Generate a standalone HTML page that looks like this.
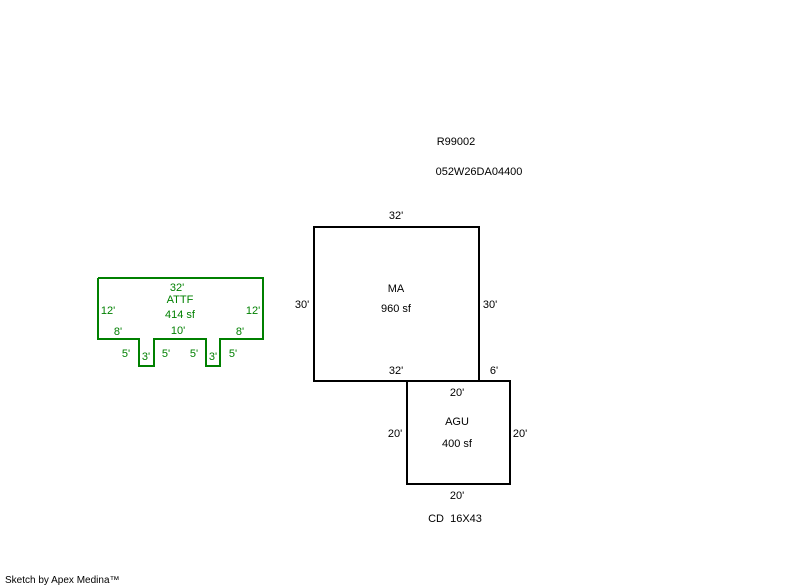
<!DOCTYPE html>
<html><head><style>
html,body{margin:0;padding:0;background:#fff;}
svg{display:block;}
text{font-family:"Liberation Sans",Arial,sans-serif;font-size:11px;}
</style></head><body>
<svg width="800" height="587" viewBox="0 0 800 587" xmlns="http://www.w3.org/2000/svg">
<g fill="none" stroke="#000" stroke-width="2">
<rect x="314" y="227" width="165" height="154"/>
<rect x="407" y="381" width="103" height="103"/>
</g>
<polyline fill="none" stroke="#008000" stroke-width="2" points="98,278 263,278 263,339 220,339 220,366 206,366 206,339 154,339 154,366 139,366 139,339 98,339 98,278"/>
<g fill="#000">
<text x="456" y="145" text-anchor="middle">R99002</text>
<text x="479" y="175" text-anchor="middle">052W26DA04400</text>
<text x="396" y="219" text-anchor="middle">32'</text>
<text x="302" y="308" text-anchor="middle">30'</text>
<text x="490" y="308" text-anchor="middle">30'</text>
<text x="396" y="292" text-anchor="middle">MA</text>
<text x="396" y="312" text-anchor="middle">960 sf</text>
<text x="396" y="374" text-anchor="middle">32'</text>
<text x="494" y="374" text-anchor="middle">6'</text>
<text x="457" y="396" text-anchor="middle">20'</text>
<text x="457" y="425" text-anchor="middle">AGU</text>
<text x="457" y="447" text-anchor="middle">400 sf</text>
<text x="395" y="437" text-anchor="middle">20'</text>
<text x="520" y="437" text-anchor="middle">20'</text>
<text x="457" y="499" text-anchor="middle">20'</text>
<text x="455" y="522" text-anchor="middle">CD&#160; 16X43</text>
<text x="5" y="583" style="font-size:10px">Sketch by Apex Medina™</text>
</g>
<g fill="#008000">
<text x="177" y="291" text-anchor="middle">32'</text>
<text x="180" y="303" text-anchor="middle">ATTF</text>
<text x="180" y="318" text-anchor="middle">414 sf</text>
<text x="108" y="314" text-anchor="middle">12'</text>
<text x="253" y="314" text-anchor="middle">12'</text>
<text x="118" y="335" text-anchor="middle">8'</text>
<text x="178" y="334" text-anchor="middle">10'</text>
<text x="240" y="335" text-anchor="middle">8'</text>
<text x="126" y="357" text-anchor="middle">5'</text>
<text x="146" y="360" text-anchor="middle">3'</text>
<text x="166" y="357" text-anchor="middle">5'</text>
<text x="194" y="357" text-anchor="middle">5'</text>
<text x="213" y="360" text-anchor="middle">3'</text>
<text x="233" y="357" text-anchor="middle">5'</text>
</g>
</svg>
</body></html>
